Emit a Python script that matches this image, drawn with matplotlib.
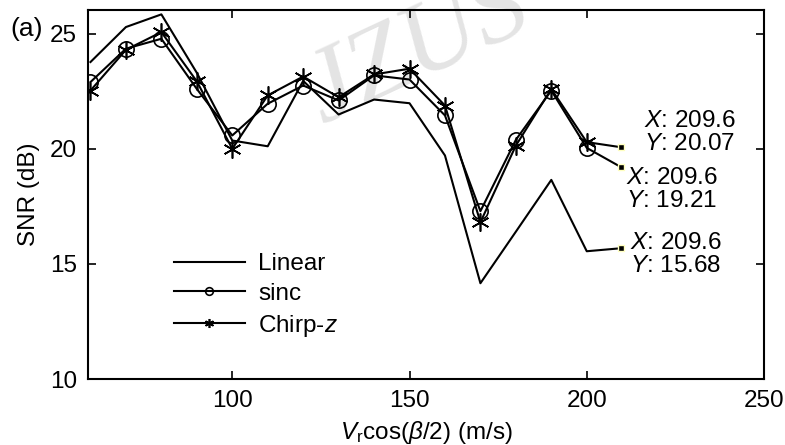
import matplotlib
matplotlib.use("Agg")
import matplotlib.pyplot as plt

plt.rcParams['font.family'] = ['Liberation Sans', 'DejaVu Sans']
plt.rcParams['mathtext.fontset'] = 'custom'
plt.rcParams['mathtext.it'] = 'Liberation Sans:italic'
plt.rcParams['mathtext.rm'] = 'Liberation Sans'

# speed values (m/s); last point is the data-tip position
x_vals = [60, 70, 80, 90, 100, 110, 120, 130, 140, 150, 160, 170, 180, 190, 200, 209.6]
linear = [23.77, 25.29, 25.84, 23.3, 20.36, 20.11, 22.95, 21.49, 22.14, 21.98,
          19.71, 14.16, 16.4, 18.65, 15.55, 15.68]
sinc = [22.9, 24.35, 24.78, 22.6, 20.58, 21.96, 22.75, 22.1, 23.19, 23.01,
        21.45, 17.29, 20.39, 22.53, 20.04, 19.21]
chirpz = [22.53, 24.3, 25.07, 22.93, 20.0, 22.32, 23.14, 22.24, 23.23, 23.48,
          21.88, 16.81, 20.14, 22.6, 20.29, 20.07]

xticks = [100, 150, 200, 250]
yticks = [10, 15, 20, 25]

FS = 17.5

fig = plt.figure(figsize=(7.85, 4.45), dpi=100)
ax = fig.add_axes([88/785, 1 - 379/445, (764-88)/785, (379-10)/445])

# faint journal watermark, behind everything
fig.text(418/785, 1 - 52/445, "JZUS", fontsize=76, color='#e4e4e4',
         family='Liberation Serif', style='italic', rotation=25,
         ha='center', va='center', zorder=-5)
ax.patch.set_alpha(0)

mk = list(range(len(x_vals) - 1))
ln_lin, = ax.plot(x_vals, linear, color='k', lw=1.5, label='Linear')
ln_sinc, = ax.plot(x_vals, sinc, color='k', lw=1.5, marker='o', ms=11,
                   mfc='none', mew=1.2, markevery=mk, label='sinc')
ln_cz, = ax.plot(x_vals, chirpz, color='k', lw=1.5, marker=(6, 2, 0), ms=13,
                 mew=1.2, markevery=mk, label='Chirp-$z$')

# data-tip squares
for ys in (linear, sinc, chirpz):
    ax.plot([x_vals[-1]], [ys[-1]], marker='s', ms=4, color='k',
            mec='#ffffc0', mew=1, zorder=5, clip_on=False)

tip_kw = dict(fontsize=FS, ha='center', va='center', linespacing=1.05)
ax.text(229.1, 20.71, "$X$: 209.6\n$Y$: 20.07", **tip_kw)
ax.text(224.0, 18.23, "$X$: 209.6\n$Y$: 19.21", **tip_kw)
ax.text(225.2, 15.40, "$X$: 209.6\n$Y$: 15.68", **tip_kw)

ax.set_xlim(59.3, 250)
ax.set_ylim(10, 26.03)
ax.set_xticks(xticks)
ax.set_yticks(yticks)
ax.tick_params(direction='in', top=True, right=True, length=6, width=1.2,
               labelsize=FS, pad=8)
for s in ax.spines.values():
    s.set_linewidth(1.5)

ax.set_xlabel(r"$V_{\rm r}$cos($\beta$/2) (m/s)", fontsize=FS, labelpad=5)
ax.set_ylabel("SNR (dB)", fontsize=FS, labelpad=7)

leg = ax.legend(handles=[ln_lin, ln_sinc, ln_cz], loc='lower left',
                bbox_to_anchor=(0.095, 0.05), frameon=False, fontsize=FS,
                handlelength=2.9, handletextpad=0.55, labelspacing=0.32,
                markerscale=0.5)

fig.text(10/785, 1 - 29/445, "(a)", fontsize=19, va='center', ha='left')

fig.savefig("out.png", dpi=100)
